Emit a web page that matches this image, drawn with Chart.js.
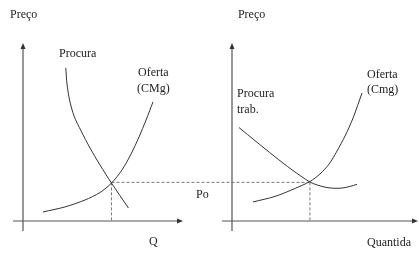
<!DOCTYPE html>
<html>
<head>
<meta charset="utf-8">
<script src="https://cdn.jsdelivr.net/npm/chart.js@4/dist/chart.umd.min.js"></script>
<style>
  body { margin: 0; background: #fff; }
  canvas { display: block; }
</style>
</head>
<body>
<canvas id="mercado" width="419" height="253"></canvas>
<script>
// left panel (product market), quantity / price units
const procuraQ = [2.675, 2.75, 2.91, 3.19, 3.63, 4.19, 4.81, 5.53, 6.59];
const procuraP = [8.60, 7.70, 6.80, 5.90, 5.06, 4.10, 3.15, 2.13, 0.73];
const ofertaQ = [1.25, 2.625, 3.875, 4.81, 5.53, 6.19, 6.75, 7.25, 7.69, 8.125];
const ofertaP = [0.51, 0.79, 1.18, 1.60, 2.13, 2.87, 3.76, 4.72, 5.67, 6.69];

// right panel (labour market)
const procuraTrabQ = [0.376, 1.29, 2.26, 3.23, 4.19, 4.62, 5.05, 5.48, 5.91, 6.34, 6.72];
const procuraTrabP = [5.25, 4.47, 3.65, 2.87, 2.19, 2.01, 1.89, 1.84, 1.85, 1.94, 2.06];
const ofertaTrabQ = [1.13, 2.31, 3.39, 4.19, 4.73, 5.22, 5.645, 6.08, 6.51, 6.99];
const ofertaTrabP = [1.07, 1.38, 1.83, 2.22, 2.64, 3.20, 3.93, 4.78, 5.79, 7.19];

// equilibrium
const eqQLeft = 5.53;
const eqQRight = 4.19;
const po = 2.17;

const toPoints = (qs, ps) => qs.map((q, i) => ({ x: q, y: ps[i] }));

// text annotations (left edge, vertical middle) in panel units
const textosLeft = [
    { t: "Preço", x: -0.81, y: 11.57 },
    { t: "Procura", x: 2.25, y: 9.38 },
    { t: "Oferta", x: 7.19, y: 8.31 },
    { t: "(CMg)", x: 7.13, y: 7.42 },
    { t: "Po", x: 10.81, y: 1.46 },
    { t: "Q", x: 7.88, y: -1.18 }
];
const textosRight = [
    { t: "Preço", x: 0.32, y: 11.57 },
    { t: "Procura", x: 0.27, y: 7.13 },
    { t: "trab.", x: 0.27, y: 6.24 },
    { t: "Oferta", x: 7.26, y: 8.20 },
    { t: "(Cmg)", x: 7.26, y: 7.36 },
    { t: "Quantida", x: 7.26, y: -1.24 }
];

function arrowHead(ctx, x, y, dir) {
    ctx.beginPath();
    if (dir === "up") {
        ctx.moveTo(x, y);
        ctx.lineTo(x - 2.5, y + 6);
        ctx.lineTo(x + 2.5, y + 6);
    } else {
        ctx.moveTo(x, y);
        ctx.lineTo(x - 6, y - 2.5);
        ctx.lineTo(x - 6, y + 2.5);
    }
    ctx.closePath();
    ctx.fill();
}

const diagrama = {
    id: "diagrama",
    beforeDatasetsDraw(chart) {
        const { ctx, scales } = chart;
        const y = scales.y;
        ctx.save();
        ctx.strokeStyle = "#555";
        ctx.fillStyle = "#333";
        ctx.lineWidth = 1.2;
        [[scales.x, -0.625], [scales.x2, -0.54]].forEach(([sx, xStart]) => {
            const ox = sx.getPixelForValue(0);
            const oy = y.getPixelForValue(0);
            const top = y.getPixelForValue(10);
            const right = sx.getPixelForValue(10);
            ctx.beginPath();
            ctx.moveTo(ox, y.getPixelForValue(-0.56));
            ctx.lineTo(ox, top + 4);
            ctx.moveTo(sx.getPixelForValue(xStart), oy);
            ctx.lineTo(right - 4, oy);
            ctx.stroke();
            arrowHead(ctx, ox, top, "up");
            arrowHead(ctx, right, oy, "right");
        });

        // dashed guides
        ctx.strokeStyle = "#777";
        ctx.lineWidth = 1;
        ctx.setLineDash([3, 2]);
        const py = y.getPixelForValue(po);
        const pxL = scales.x.getPixelForValue(eqQLeft);
        const pxR = scales.x2.getPixelForValue(eqQRight);
        const base = y.getPixelForValue(0);
        ctx.beginPath();
        ctx.moveTo(pxL, py);
        ctx.lineTo(pxR, py);
        ctx.moveTo(pxL, py);
        ctx.lineTo(pxL, base);
        ctx.moveTo(pxR, py);
        ctx.lineTo(pxR, base);
        ctx.stroke();
        ctx.restore();
    },
    afterDatasetsDraw(chart) {
        const { ctx, scales } = chart;
        ctx.save();
        ctx.font = "12px 'Liberation Serif', 'Times New Roman', serif";
        ctx.fillStyle = "#222";
        ctx.textAlign = "left";
        ctx.textBaseline = "middle";
        textosLeft.forEach(l => {
            ctx.fillText(l.t, scales.x.getPixelForValue(l.x), scales.y.getPixelForValue(l.y));
        });
        textosRight.forEach(l => {
            ctx.fillText(l.t, scales.x2.getPixelForValue(l.x), scales.y.getPixelForValue(l.y));
        });
        ctx.restore();
    }
};

const curva = {
    borderColor: "#333",
    borderWidth: 1,
    pointRadius: 0,
    fill: false,
    tension: 0.3
};

new Chart(document.getElementById("mercado"), {
    type: "line",
    data: {
        datasets: [
            { ...curva, label: "Procura", data: toPoints(procuraQ, procuraP), xAxisID: "x" },
            { ...curva, label: "Oferta (CMg)", data: toPoints(ofertaQ, ofertaP), xAxisID: "x" },
            { ...curva, label: "Procura trab.", data: toPoints(procuraTrabQ, procuraTrabP), xAxisID: "x2" },
            { ...curva, label: "Oferta (Cmg)", data: toPoints(ofertaTrabQ, ofertaTrabP), xAxisID: "x2" }
        ]
    },
    options: {
        responsive: false,
        animation: false,
        devicePixelRatio: 1,
        layout: { padding: 0 },
        plugins: { legend: { display: false }, tooltip: { enabled: false } },
        scales: {
            // both panels share the canvas; min/max place each panel's origin
            x: { type: "linear", display: false, min: -1.4375, max: 24.75 },
            x2: { type: "linear", display: false, min: -12.473, max: 10.054 },
            y: { type: "linear", display: false, min: -1.798, max: 12.416 }
        }
    },
    plugins: [diagrama]
});
</script>
</body>
</html>
